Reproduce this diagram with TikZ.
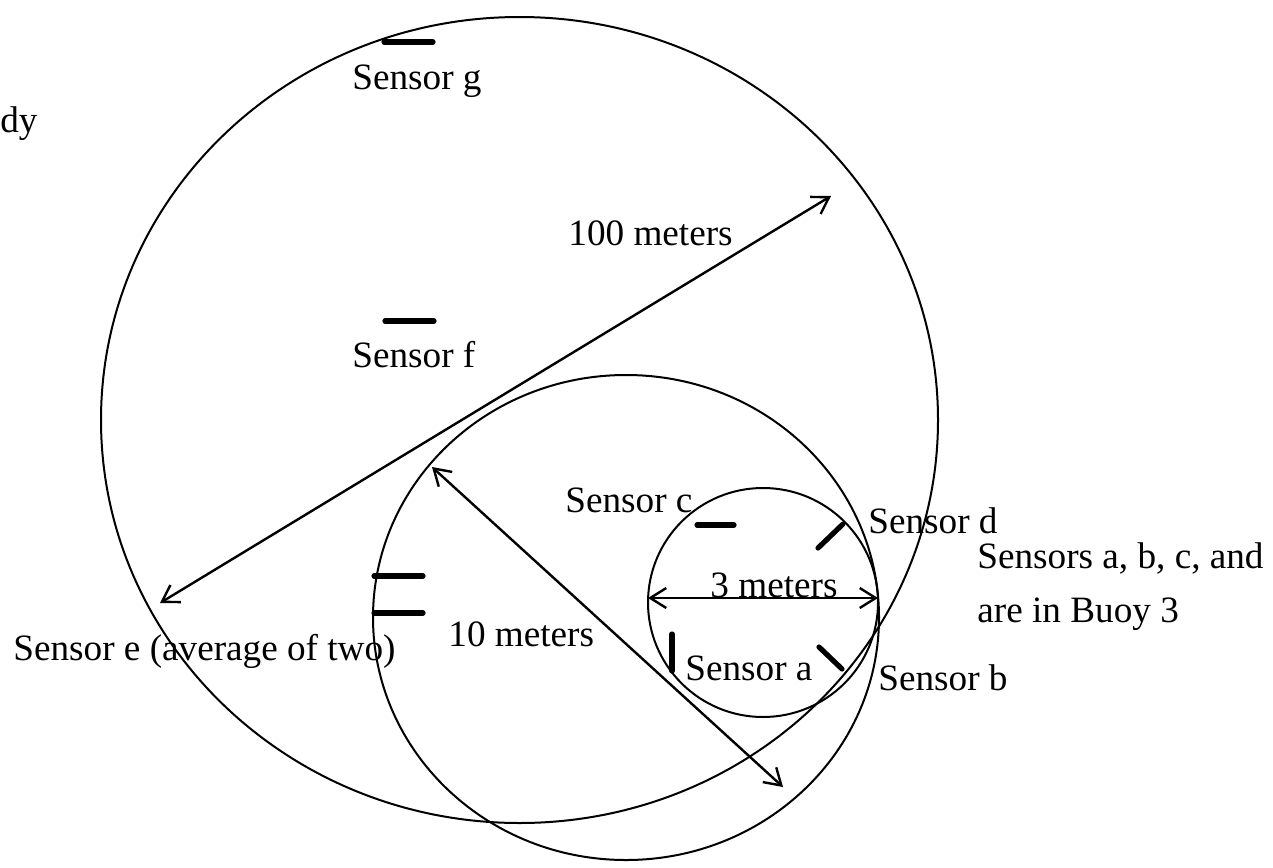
\documentclass[tikz,border=0pt]{standalone}
\usepackage{fontspec}
\setmainfont{Liberation Serif}
\usetikzlibrary{arrows.meta}
\begin{document}
\begin{tikzpicture}[x=0.5pt,y=-0.5pt,
  lbl/.style={anchor=base west,inner sep=0pt,font=\fontsize{18.6}{22}\selectfont},
  ring/.style={line width=1pt},
  dim/.style={line width=1.2pt,{Straight Barb[length=8pt,width=10pt]}-{Straight Barb[length=8pt,width=10pt]}},
  sensmark/.style={line width=2.6pt,line cap=round}]
\useasboundingbox (0,0) rectangle (1273,867);
% circles
\draw[ring] (519.5,420) ellipse [x radius=209.25pt,y radius=201.5pt];
\draw[ring] (626,617.5) ellipse [x radius=126.5pt,y radius=121.25pt];
\draw[ring] (763,602.5) ellipse [x radius=57.5pt,y radius=57.25pt];
% arrow end points
\coordinate (h1) at (160,603);
\coordinate (h2) at (831,196);
\coordinate (t1) at (432,467);
\coordinate (t2) at (783,787);
\coordinate (s1) at (648,598);
\coordinate (s2) at (878,598);
\draw[dim] (h1) -- (h2);
\draw[dim] (t1) -- (t2);
\draw[dim] (s1) -- (s2);
% sensor marks
\coordinate (g1) at (384,42); \coordinate (g2) at (433,42);
\coordinate (f1) at (385,321); \coordinate (f2) at (434,321);
\coordinate (e1) at (374,576); \coordinate (e2) at (423,576);
\coordinate (e3) at (374,613); \coordinate (e4) at (423,613);
\coordinate (c1) at (697,525); \coordinate (c2) at (734,525);
\coordinate (d1) at (818,548); \coordinate (d2) at (843,524);
\coordinate (a1) at (672,634); \coordinate (a2) at (672,671);
\coordinate (b1) at (819,647); \coordinate (b2) at (842,669);
\draw[sensmark] (g1) -- (g2);
\draw[sensmark] (f1) -- (f2);
\draw[sensmark] (e1) -- (e2);
\draw[sensmark] (e3) -- (e4);
\draw[sensmark] (c1) -- (c2);
\draw[sensmark] (d1) -- (d2);
\draw[sensmark] (a1) -- (a2);
\draw[sensmark] (b1) -- (b2);
% labels
\node[lbl] (ldy) at (0,132) {dy};
\node[lbl] (lg) at (352,89) {Sensor g};
\node[lbl] (l100) at (568,245) {100 meters};
\node[lbl] (lf) at (352,367) {Sensor f};
\node[lbl] (lc) at (565,512) {Sensor c};
\node[lbl] (ld) at (868,533) {Sensor d};
\node[lbl] (lbuoy1) at (977,568) {Sensors a, b, c, and};
\node[lbl] (lbuoy2) at (977,622) {are in Buoy 3};
\node[lbl] (l3) at (710,597) {3 meters};
\node[lbl] (la) at (685,680) {Sensor a};
\node[lbl] (lb) at (878,690) {Sensor b};
\node[lbl] (l10) at (448,646) {10 meters};
\node[lbl] (le) at (13,660) {Sensor e (average of two)};
\end{tikzpicture}
\end{document}
